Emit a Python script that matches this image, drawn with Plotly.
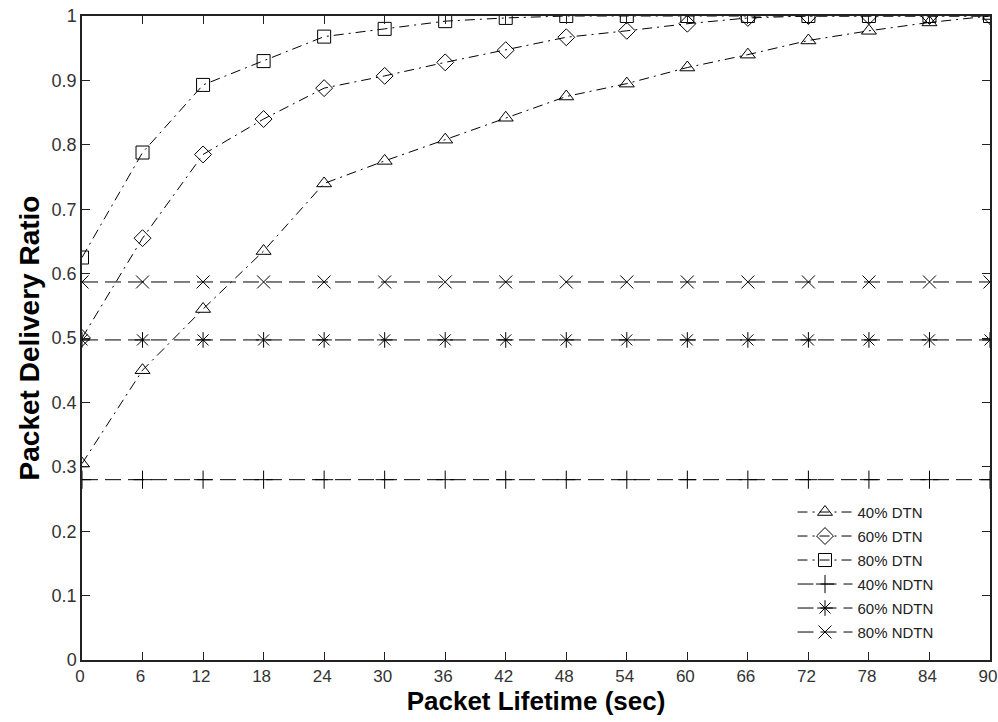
import plotly.graph_objects as go

x_vals = [0, 6, 12, 18, 24, 30, 36, 42, 48, 54, 60, 66, 72, 78, 84, 90]
dtn40 = [0.305, 0.45, 0.545, 0.635, 0.74, 0.775, 0.808, 0.842, 0.875, 0.895, 0.92, 0.94, 0.962, 0.977, 0.99, 1.0]
dtn60 = [0.5, 0.655, 0.785, 0.84, 0.888, 0.907, 0.928, 0.947, 0.967, 0.977, 0.988, 0.997, 1.0, 1.0, 1.0, 1.0]
dtn80 = [0.625, 0.788, 0.893, 0.93, 0.968, 0.98, 0.992, 0.997, 1.0, 1.0, 1.0, 1.0, 1.0, 1.0, 1.0, 1.0]
ndtn40 = [0.28] * 16
ndtn60 = [0.497] * 16
ndtn80 = [0.587] * 16
y_ticks = [0, 0.1, 0.2, 0.3, 0.4, 0.5, 0.6, 0.7, 0.8, 0.9, 1]
y_tick_text = ["0", "0.1", "0.2", "0.3", "0.4", "0.5", "0.6", "0.7", "0.8", "0.9", "1"]

series = [
    ("40% DTN", dtn40, "triangle-up-open", "10px,5px,2px,5px"),
    ("60% DTN", dtn60, "diamond-open", "10px,5px,2px,5px"),
    ("80% DTN", dtn80, "square-open", "10px,5px,2px,5px"),
    ("40% NDTN", ndtn40, "cross-thin-open", "16px,7px"),
    ("60% NDTN", ndtn60, "asterisk-open", "16px,7px"),
    ("80% NDTN", ndtn80, "x-thin-open", "16px,7px"),
]

fig = go.Figure()
for i, (name, yv, sym, dash) in enumerate(series):
    fig.add_trace(go.Scatter(
        x=x_vals, y=yv, name=name, mode="lines+markers",
        line=dict(color="black", width=1, dash=dash),
        marker=dict(symbol=sym, size=13, color="black", line=dict(color="black", width=1)),
        legendgroup=str(i),
    ))

font_family = "Liberation Sans, Arial, sans-serif"
axis_common = dict(
    showline=True, linecolor="#222", linewidth=1.5, mirror="ticks",
    ticks="inside", ticklen=8, tickcolor="#222", showgrid=False, zeroline=False,
    ticklabeloverflow="allow", automargin=False,
)

fig.update_layout(
    width=998, height=722,
    margin=dict(l=82, r=8, t=16, b=62),
    paper_bgcolor="white", plot_bgcolor="white",
    xaxis=dict(range=[0, 90], tickvals=x_vals, ticktext=[str(v) for v in x_vals],
               ticklabelshift=-2,
               tickfont=dict(family=font_family, size=17, color="#333"),
               title=dict(text="<b>Packet Lifetime (sec)</b>", standoff=7,
                          font=dict(family=font_family, size=26, color="black")),
               **axis_common),
    yaxis=dict(range=[0, 1], tickvals=y_ticks, ticktext=y_tick_text,
               tickfont=dict(family=font_family, size=18, color="#333"),
               title=dict(text="<b>Packet Delivery Ratio</b>", standoff=4,
                          font=dict(family=font_family, size=28, color="black")),
               **axis_common),
    legend=dict(x=0.7825, y=0.255, xanchor="left", yanchor="top",
                bgcolor="rgba(255,255,255,0)", borderwidth=0, tracegroupgap=1.5,
                itemwidth=55,
                font=dict(family=font_family, size=15, color="#222")),
    showlegend=True,
)

fig.write_html("out.html")
